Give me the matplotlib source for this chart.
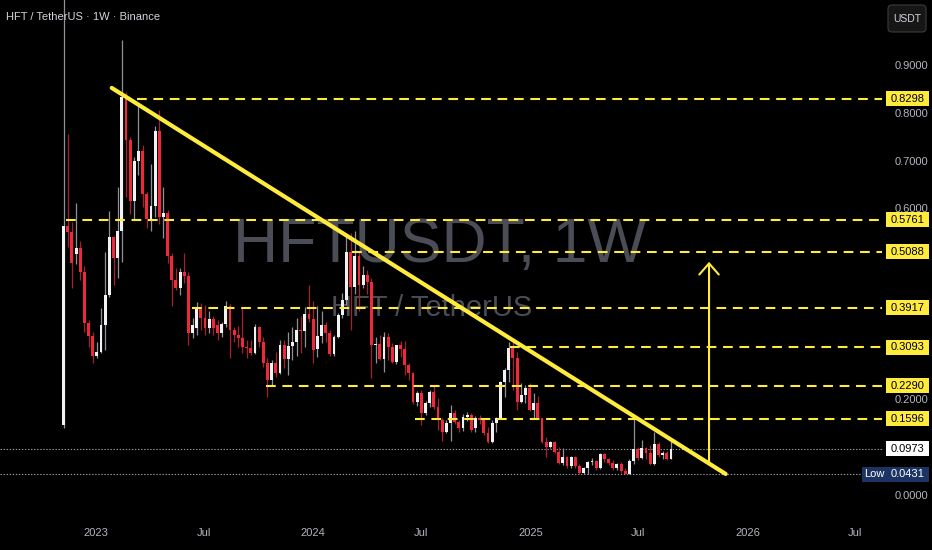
import numpy as np
import pandas as pd
import matplotlib
matplotlib.use('Agg')
import matplotlib.pyplot as plt
import matplotlib.dates as mdates
import matplotlib.transforms as mtransforms
from matplotlib.patches import Rectangle, FancyBboxPatch

plt.rcParams['font.family'] = ['Liberation Sans', 'DejaVu Sans']
plt.rcParams['lines.scale_dashes'] = False

################ DATA ################

# weekly candles HFT/USDT (Binance), first bar on monday 2022-11-07
first_week = '2022-11-07'

opens = [0.146, 0.563, 0.550, 0.505, 0.517, 0.467, 0.360, 0.333, 0.291, 0.299,
         0.356, 0.419, 0.540, 0.496, 0.553, 0.833, 0.743, 0.615, 0.699, 0.720,
         0.630, 0.578, 0.605, 0.762, 0.582, 0.590, 0.500, 0.450, 0.433, 0.467,
         0.458, 0.339, 0.350, 0.393, 0.370, 0.349, 0.368, 0.356, 0.339, 0.358,
         0.396, 0.345, 0.335, 0.329, 0.310, 0.308, 0.297, 0.352, 0.320, 0.276,
         0.241, 0.276, 0.255, 0.314, 0.285, 0.312, 0.320, 0.345, 0.343, 0.379,
         0.368, 0.305, 0.333, 0.356, 0.339, 0.295, 0.331, 0.377, 0.408, 0.509,
         0.435, 0.500, 0.440, 0.460, 0.445, 0.313, 0.316, 0.285, 0.331, 0.310,
         0.278, 0.314, 0.305, 0.272, 0.255, 0.195, 0.213, 0.172, 0.193, 0.216,
         0.184, 0.157, 0.132, 0.151, 0.172, 0.153, 0.140, 0.163, 0.167, 0.140,
         0.161, 0.157, 0.130, 0.111, 0.151, 0.161, 0.236, 0.262, 0.308, 0.287,
         0.195, 0.209, 0.224, 0.178, 0.193, 0.161, 0.111, 0.100, 0.111, 0.090,
         0.067, 0.079, 0.061, 0.079, 0.061, 0.046, 0.056, 0.069, 0.071, 0.057,
         0.086, 0.075, 0.067, 0.057, 0.065, 0.050, 0.044, 0.071, 0.096, 0.077,
         0.098, 0.088, 0.065, 0.107, 0.084, 0.088, 0.075]
highs = [1.250, 0.756, 0.571, 0.611, 0.532, 0.479, 0.366, 0.341, 0.320, 0.391,
         0.509, 0.594, 0.542, 0.645, 0.952, 0.843, 0.749, 0.707, 0.816, 0.733,
         0.634, 0.693, 0.772, 0.806, 0.645, 0.597, 0.506, 0.475, 0.475, 0.506,
         0.467, 0.370, 0.404, 0.402, 0.398, 0.385, 0.375, 0.366, 0.362, 0.406,
         0.399, 0.352, 0.354, 0.391, 0.324, 0.324, 0.358, 0.354, 0.331, 0.287,
         0.283, 0.299, 0.324, 0.324, 0.341, 0.352, 0.370, 0.375, 0.393, 0.440,
         0.406, 0.396, 0.385, 0.362, 0.345, 0.335, 0.381, 0.423, 0.544, 0.548,
         0.552, 0.510, 0.479, 0.470, 0.455, 0.331, 0.335, 0.341, 0.339, 0.318,
         0.314, 0.322, 0.322, 0.276, 0.257, 0.218, 0.220, 0.197, 0.220, 0.229,
         0.203, 0.161, 0.157, 0.188, 0.178, 0.157, 0.170, 0.174, 0.172, 0.165,
         0.168, 0.161, 0.142, 0.157, 0.163, 0.238, 0.266, 0.320, 0.320, 0.299,
         0.234, 0.230, 0.234, 0.213, 0.207, 0.161, 0.121, 0.113, 0.113, 0.100,
         0.098, 0.081, 0.082, 0.082, 0.065, 0.059, 0.071, 0.077, 0.073, 0.088,
         0.088, 0.077, 0.073, 0.067, 0.069, 0.057, 0.075, 0.1596, 0.100, 0.115,
         0.100, 0.105, 0.132, 0.111, 0.092, 0.092, 0.119]
lows = [0.140, 0.519, 0.433, 0.483, 0.450, 0.341, 0.310, 0.276, 0.287, 0.297,
        0.303, 0.414, 0.440, 0.454, 0.488, 0.624, 0.588, 0.578, 0.670, 0.603,
        0.559, 0.553, 0.582, 0.567, 0.538, 0.486, 0.396, 0.429, 0.419, 0.444,
        0.314, 0.329, 0.335, 0.345, 0.335, 0.339, 0.335, 0.324, 0.331, 0.352,
        0.287, 0.320, 0.310, 0.297, 0.287, 0.293, 0.295, 0.310, 0.268, 0.205,
        0.230, 0.247, 0.253, 0.266, 0.251, 0.283, 0.291, 0.297, 0.310, 0.362,
        0.276, 0.289, 0.318, 0.320, 0.291, 0.291, 0.329, 0.370, 0.398, 0.345,
        0.420, 0.385, 0.433, 0.420, 0.244, 0.276, 0.283, 0.257, 0.283, 0.276,
        0.274, 0.289, 0.251, 0.241, 0.190, 0.186, 0.146, 0.167, 0.184, 0.180,
        0.136, 0.113, 0.130, 0.113, 0.149, 0.132, 0.134, 0.155, 0.132, 0.132,
        0.149, 0.126, 0.109, 0.109, 0.132, 0.159, 0.205, 0.236, 0.220, 0.178,
        0.193, 0.193, 0.176, 0.161, 0.159, 0.109, 0.080, 0.098, 0.088, 0.065,
        0.063, 0.057, 0.057, 0.057, 0.044, 0.044, 0.044, 0.063, 0.052, 0.054,
        0.069, 0.063, 0.052, 0.052, 0.046, 0.0431, 0.044, 0.065, 0.073, 0.075,
        0.075, 0.063, 0.063, 0.080, 0.075, 0.073, 0.075]
closes = [0.563, 0.550, 0.486, 0.517, 0.467, 0.360, 0.333, 0.291, 0.299, 0.356,
          0.419, 0.540, 0.496, 0.553, 0.833, 0.743, 0.615, 0.699, 0.720, 0.630,
          0.578, 0.605, 0.762, 0.582, 0.590, 0.500, 0.450, 0.433, 0.467, 0.458,
          0.339, 0.356, 0.393, 0.370, 0.349, 0.368, 0.349, 0.339, 0.358, 0.396,
          0.345, 0.335, 0.329, 0.310, 0.308, 0.297, 0.352, 0.320, 0.276, 0.241,
          0.276, 0.255, 0.314, 0.285, 0.312, 0.320, 0.345, 0.343, 0.379, 0.368,
          0.303, 0.333, 0.356, 0.339, 0.295, 0.331, 0.377, 0.408, 0.509, 0.435,
          0.500, 0.440, 0.460, 0.445, 0.313, 0.316, 0.285, 0.331, 0.310, 0.278,
          0.314, 0.305, 0.272, 0.255, 0.195, 0.213, 0.172, 0.193, 0.216, 0.184,
          0.157, 0.132, 0.151, 0.172, 0.153, 0.140, 0.163, 0.167, 0.136, 0.161,
          0.157, 0.130, 0.111, 0.151, 0.161, 0.236, 0.262, 0.308, 0.287, 0.195,
          0.209, 0.224, 0.178, 0.193, 0.161, 0.111, 0.100, 0.111, 0.090, 0.067,
          0.079, 0.061, 0.079, 0.061, 0.046, 0.056, 0.069, 0.071, 0.057, 0.086,
          0.075, 0.067, 0.057, 0.065, 0.050, 0.044, 0.071, 0.096, 0.077, 0.098,
          0.088, 0.065, 0.107, 0.084, 0.088, 0.075, 0.0973]

# horizontal levels drawn on the chart and where they start
levels = [0.8298, 0.5761, 0.5088, 0.3917, 0.3093, 0.2290, 0.1596]
level_start = ['2023-03-10', '2022-11-11', '2024-03-06', '2023-06-11',
               '2024-11-27', '2023-10-13', '2024-06-20']

last_price = 0.0973
low_price = 0.0431

trend_dates = ['2023-01-27', '2025-11-25']
trend_prices = [0.852, 0.044]

arrow_date = '2025-10-28'
arrow_prices = [0.067, 0.488]

price_ticks = [0.0, 0.2, 0.6, 0.7, 0.8, 0.9]
time_ticks = ['2023-01-01', '2023-07-01', '2024-01-01', '2024-07-01',
              '2025-01-01', '2025-07-01', '2026-01-01', '2026-07-01']
time_labels = ['2023', 'Jul', '2024', 'Jul', '2025', 'Jul', '2026', 'Jul']

################ PLOT ################

W, H = 932, 550
yellow = '#ffeb3b'
grey_txt = '#b2b5be'

fig = plt.figure(figsize=(W / 100, H / 100), dpi=100, facecolor='black')
ax = fig.add_axes([0, 40 / H, 882 / W, 510 / H])
ax.set_facecolor('black')
for s in ax.spines.values():
    s.set_visible(False)

ymin, ymax = -0.0314, 1.036
ax.set_ylim(ymin, ymax)
ax.set_xlim(mdates.date2num(pd.Timestamp('2022-07-23')), mdates.date2num(pd.Timestamp('2026-08-15')))
px = (ymax - ymin) / 510.0  # data units per pixel

dates = mdates.date2num(pd.date_range(first_week, periods=len(opens), freq='7D'))
o = np.array(opens)
h = np.array(highs)
l = np.array(lows)
c = np.array(closes)
up = c >= o

# watermark behind the candles
ax.text(440 / W, 1 - 262 / H, 'HFTUSDT, 1W', transform=fig.transFigure, ha='center',
        va='baseline', fontsize=45, color='#4a4d56', zorder=0)
ax.text(432 / W, 1 - 316 / H, 'HFT / TetherUS', transform=fig.transFigure, ha='center',
        va='baseline', fontsize=21, color='#4a4d56', zorder=0)

# candles
body = np.maximum(np.abs(c - o), px)
bottom = np.minimum(o, c)
ax.vlines(dates[up], l[up], h[up], color='#8f9198', lw=0.9, zorder=2)
ax.vlines(dates[~up], l[~up], h[~up], color='#a8202e', lw=0.9, zorder=2)
ax.bar(dates[up], body[up], bottom=bottom[up], width=4.8, color='#f2f2f2', zorder=3)
ax.bar(dates[~up], body[~up], bottom=bottom[~up], width=4.8, color='#f0283c', zorder=3)

# dotted lines for last price and low
ax.axhline(last_price, color='#9598a1', lw=0.8, ls=(0, (1, 1.2)), zorder=1)
ax.axhline(low_price, color='#9598a1', lw=0.8, ls=(0, (1, 1.2)), zorder=1)

# yellow dashed levels
xr = ax.get_xlim()[1]
for lev, st in zip(levels, level_start):
    ax.hlines(lev, mdates.date2num(pd.Timestamp(st)), xr, color=yellow, lw=1.5,
              linestyles=[(0, (7.0, 4.8))], zorder=4)

# trend line + arrow
ax.plot(mdates.date2num(pd.to_datetime(trend_dates)), trend_prices, color=yellow, lw=3,
        solid_capstyle='round', zorder=5)
ad = mdates.date2num(pd.Timestamp(arrow_date))
ax.annotate('', xy=(ad, arrow_prices[1]), xytext=(ad, arrow_prices[0]),
            arrowprops=dict(arrowstyle='->,head_length=0.8,head_width=0.7', color=yellow,
                            lw=1.5, shrinkA=0, shrinkB=0, mutation_scale=10), zorder=5)

# axes ticks
ax.yaxis.tick_right()
ax.set_yticks(price_ticks)
ax.set_yticklabels(['%.4f' % t for t in price_ticks])
ax.tick_params(axis='y', length=0, pad=9, labelsize=8, labelcolor=grey_txt)
ax.set_xticks(mdates.date2num(pd.to_datetime(time_ticks)))
ax.set_xticklabels(time_labels)
ax.tick_params(axis='x', length=0, pad=13, labelsize=8, labelcolor=grey_txt)

# price labels on the scale
blend = mtransforms.blended_transform_factory(fig.transFigure, ax.transData)
bh = 15 * px


def price_box(x0, w, y, txt, fc, tc):
    ax.add_patch(Rectangle((x0 / W, y - bh / 2), w / W, bh, transform=blend, fc=fc,
                           ec='none', clip_on=False, zorder=6))
    ax.text((x0 + w / 2) / W, y, txt, transform=blend, ha='center', va='center',
            fontsize=8, color=tc, clip_on=False, zorder=7)


for lev in levels:
    price_box(886, 43, lev, '%.4f' % lev, yellow, 'black')
price_box(886, 43, last_price, '%.4f' % last_price, 'white', 'black')
price_box(862, 24, low_price, 'Low', '#1c3463', 'white')
price_box(886, 43, low_price, '%.4f' % low_price, '#1c3463', 'white')

# header and currency button
fig.text(6 / W, 1 - 17 / H, 'HFT / TetherUS \u00b7 1W \u00b7 Binance', va='center', ha='left',
         fontsize=8, color='#d1d4dc')
btn = FancyBboxPatch((8.88, (H - 32) / 100), 0.38, 0.27,
                     boxstyle='round,pad=0,rounding_size=0.04',
                     transform=fig.dpi_scale_trans, fc='#161616', ec='#3c3c3c', lw=0.8)
fig.add_artist(btn)
fig.text(9.07 / 9.32, 1 - 18.5 / H, 'USDT', ha='center', va='center', fontsize=7.5,
         color='#d1d4dc')

plt.savefig('out.png', dpi=100, facecolor='black')
